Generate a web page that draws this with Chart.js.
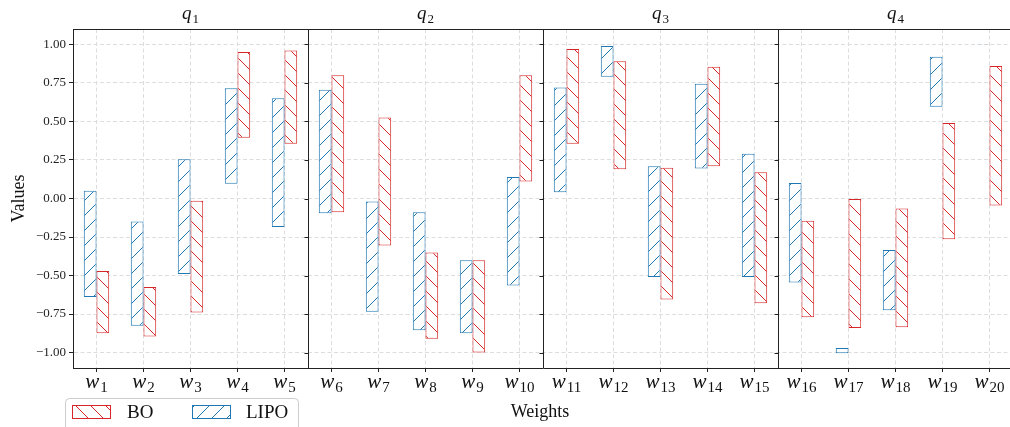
<!DOCTYPE html>
<html>
<head>
<meta charset="utf-8">
<script src="https://cdn.jsdelivr.net/npm/chart.js@4.4.1/dist/chart.umd.min.js"></script>
<style>
  html, body { margin: 0; padding: 0; background: #fff; overflow: hidden; }
  #wrap { width: 1010px; height: 427px; position: relative; overflow: hidden; }
  #chart { position: absolute; left: 0; top: 0; }
</style>
</head>
<body>
<div id="wrap"><canvas id="chart" width="1013" height="427"></canvas></div>
<script>
// weights w1..w20, five per query panel
const weights = ["1","2","3","4","5","6","7","8","9","10","11","12","13","14","15","16","17","18","19","20"];
const panels = ["1", "2", "3", "4"];
const yTicks = [-1, -0.75, -0.5, -0.25, 0, 0.25, 0.5, 0.75, 1];

// LIPO ranges
const lipoLow  = [-0.64, -0.825, -0.49, 0.095, -0.185,  -0.095, -0.735, -0.855, -0.875, -0.565,  0.04, 0.79, -0.51, 0.195, -0.51,  -0.545, -1.005, -0.725, 0.595, 0.997];
const lipoHigh = [0.05, -0.15, 0.255, 0.715, 0.65,  0.705, -0.02, -0.09, -0.40, 0.14,  0.72, 0.99, 0.21, 0.745, 0.29,  0.10, -0.97, -0.335, 0.92, 1.0];

// BO ranges
const boLow  = [-0.875, -0.895, -0.74, 0.395, 0.355,  -0.09, -0.305, -0.91, -1.0, 0.11,  0.355, 0.19, -0.655, 0.21, -0.68,  -0.77, -0.84, -0.835, -0.265, -0.045];
const boHigh = [-0.47, -0.575, -0.015, 0.95, 0.96,  0.80, 0.525, -0.35, -0.40, 0.80,  0.97, 0.89, 0.20, 0.855, 0.17,  -0.145, 0.0, -0.065, 0.49, 0.86];

const BLUE = "#1f77b4";
const RED = "#d62728";
const SERIF = "'Liberation Serif', 'DejaVu Serif', serif";

function hatch(color, dir) {
    const s = 15;
    const c = document.createElement("canvas");
    c.width = s;
    c.height = s;
    const g = c.getContext("2d");
    g.fillStyle = "#fff";
    g.fillRect(0, 0, s, s);
    g.strokeStyle = color;
    g.lineWidth = 1;
    g.beginPath();
    if (dir === "/") {
        g.moveTo(-1, s + 1); g.lineTo(s + 1, -1);
        g.moveTo(-1, 1); g.lineTo(1, -1);
        g.moveTo(s - 1, s + 1); g.lineTo(s + 1, s - 1);
    } else {
        g.moveTo(-1, -1); g.lineTo(s + 1, s + 1);
        g.moveTo(s - 1, -1); g.lineTo(s + 1, 1);
        g.moveTo(-1, s - 1); g.lineTo(1, s + 1);
    }
    g.stroke();
    return g.createPattern(c, "repeat");
}

const lipoFill = hatch(BLUE, "/");
const boFill = hatch(RED, "\\");

const fmt = (v) => (v < 0 ? "\u2212" : "") + Math.abs(v).toFixed(2);

// italic letter with a subscript number
function subText(ctx, letter, sub, x, y, size) {
    ctx.save();
    ctx.fillStyle = "#111";
    ctx.textBaseline = "alphabetic";
    ctx.font = "italic " + size + "px " + SERIF;
    const w1 = ctx.measureText(letter).width;
    ctx.font = Math.round(size * 0.7) + "px " + SERIF;
    const w2 = ctx.measureText(sub).width;
    const x0 = x - (w1 + w2 + 1) / 2;
    ctx.font = "italic " + size + "px " + SERIF;
    ctx.textAlign = "left";
    ctx.fillText(letter, x0, y);
    ctx.font = Math.round(size * 0.7) + "px " + SERIF;
    ctx.fillText(sub, x0 + w1 + 1, y + size * 0.2);
    ctx.restore();
}

const decorations = {
    id: "decorations",
    afterDraw(chart) {
        const { ctx, chartArea: a, scales } = chart;
        const x = scales.x;
        const y = scales.y;
        ctx.save();

        // top and right spines
        ctx.strokeStyle = "#222";
        ctx.lineWidth = 1;
        ctx.beginPath();
        ctx.moveTo(a.left, Math.round(a.top) + 0.5);
        ctx.lineTo(a.right, Math.round(a.top) + 0.5);
        ctx.stroke();

        // panel separators with their own y ticks
        for (let p = 1; p < panels.length; p++) {
            const bx = Math.round((x.getPixelForValue(p * 5 - 1) + x.getPixelForValue(p * 5)) / 2) + 0.5;
            ctx.beginPath();
            ctx.moveTo(bx, a.top);
            ctx.lineTo(bx, a.bottom);
            yTicks.forEach((v) => {
                const py = Math.round(y.getPixelForValue(v)) + 0.5;
                ctx.moveTo(bx - 4, py);
                ctx.lineTo(bx, py);
            });
            ctx.stroke();
        }

        // panel titles
        panels.forEach((q, p) => {
            const cx = (x.getPixelForValue(p * 5) + x.getPixelForValue(p * 5 + 4)) / 2;
            subText(ctx, "q", q, cx, 19, 19);
        });

        // x tick labels
        weights.forEach((w, i) => {
            subText(ctx, "w", w, x.getPixelForValue(i), 388, 21);
        });

        // axis titles
        ctx.fillStyle = "#111";
        ctx.font = "18px " + SERIF;
        ctx.textAlign = "center";
        ctx.textBaseline = "alphabetic";
        ctx.fillText("Weights", 540, 417);
        ctx.save();
        ctx.translate(24, (a.top + a.bottom) / 2);
        ctx.rotate(-Math.PI / 2);
        ctx.fillText("Values", 0, 0);
        ctx.restore();

        // legend
        const lx = 65.5, ly = 398.5, lw = 233, lh = 40, r = 4;
        ctx.beginPath();
        ctx.moveTo(lx + r, ly);
        ctx.lineTo(lx + lw - r, ly);
        ctx.arcTo(lx + lw, ly, lx + lw, ly + r, r);
        ctx.lineTo(lx + lw, ly + lh);
        ctx.lineTo(lx, ly + lh);
        ctx.lineTo(lx, ly + r);
        ctx.arcTo(lx, ly, lx + r, ly, r);
        ctx.fillStyle = "rgba(255,255,255,0.9)";
        ctx.fill();
        ctx.strokeStyle = "#cccccc";
        ctx.stroke();

        const items = [
            { fill: boFill, color: RED, label: "BO", px: 72.5, tx: 127 },
            { fill: lipoFill, color: BLUE, label: "LIPO", px: 192.5, tx: 246 },
        ];
        items.forEach((it) => {
            ctx.fillStyle = it.fill;
            ctx.fillRect(it.px, 405.5, 38, 13);
            ctx.strokeStyle = it.color;
            ctx.lineWidth = 1;
            ctx.strokeRect(it.px, 405.5, 38, 13);
            ctx.fillStyle = "#111";
            ctx.font = "19px " + SERIF;
            ctx.textAlign = "left";
            ctx.fillText(it.label, it.tx, 418);
        });

        ctx.restore();
    },
};

new Chart(document.getElementById("chart"), {
    type: "bar",
    data: {
        labels: weights,
        datasets: [
            {
                label: "LIPO",
                data: lipoLow.map((v, i) => [v, lipoHigh[i]]),
                backgroundColor: lipoFill,
                borderColor: BLUE,
                borderWidth: 1,
                borderSkipped: false,
            },
            {
                label: "BO",
                data: boLow.map((v, i) => [v, boHigh[i]]),
                backgroundColor: boFill,
                borderColor: RED,
                borderWidth: 1,
                borderSkipped: false,
            },
        ],
    },
    options: {
        responsive: false,
        animation: false,
        categoryPercentage: 0.54,
        barPercentage: 1.0,
        layout: { padding: { top: 29, right: 0, left: 0, bottom: 0 } },
        plugins: {
            legend: { display: false },
            tooltip: { enabled: false },
            title: { display: false },
        },
        scales: {
            x: {
                offset: true,
                grid: {
                    offset: false,
                    color: "#dddddd",
                    lineWidth: 1,
                    drawTicks: true,
                    tickLength: 4,
                    tickColor: "#222",
                    tickBorderDash: [],
                },
                border: { display: true, color: "#222", width: 1, dash: [4, 2.5] },
                ticks: { display: false, autoSkip: false },
                afterFit: (s) => { s.height = 59; },
            },
            y: {
                min: -1.1,
                max: 1.1,
                afterBuildTicks: (s) => { s.ticks = yTicks.map((v) => ({ value: v })); },
                grid: {
                    color: "#dddddd",
                    lineWidth: 1,
                    drawTicks: true,
                    tickLength: 4,
                    tickColor: "#222",
                    tickBorderDash: [],
                },
                border: { display: true, color: "#222", width: 1, dash: [4, 2.5] },
                ticks: {
                    padding: 3,
                    color: "#222",
                    font: { family: SERIF, size: 13 },
                    callback: (v) => fmt(v),
                },
                afterFit: (s) => { s.width = 73; },
            },
        },
    },
    plugins: [decorations],
});
</script>
</body>
</html>
